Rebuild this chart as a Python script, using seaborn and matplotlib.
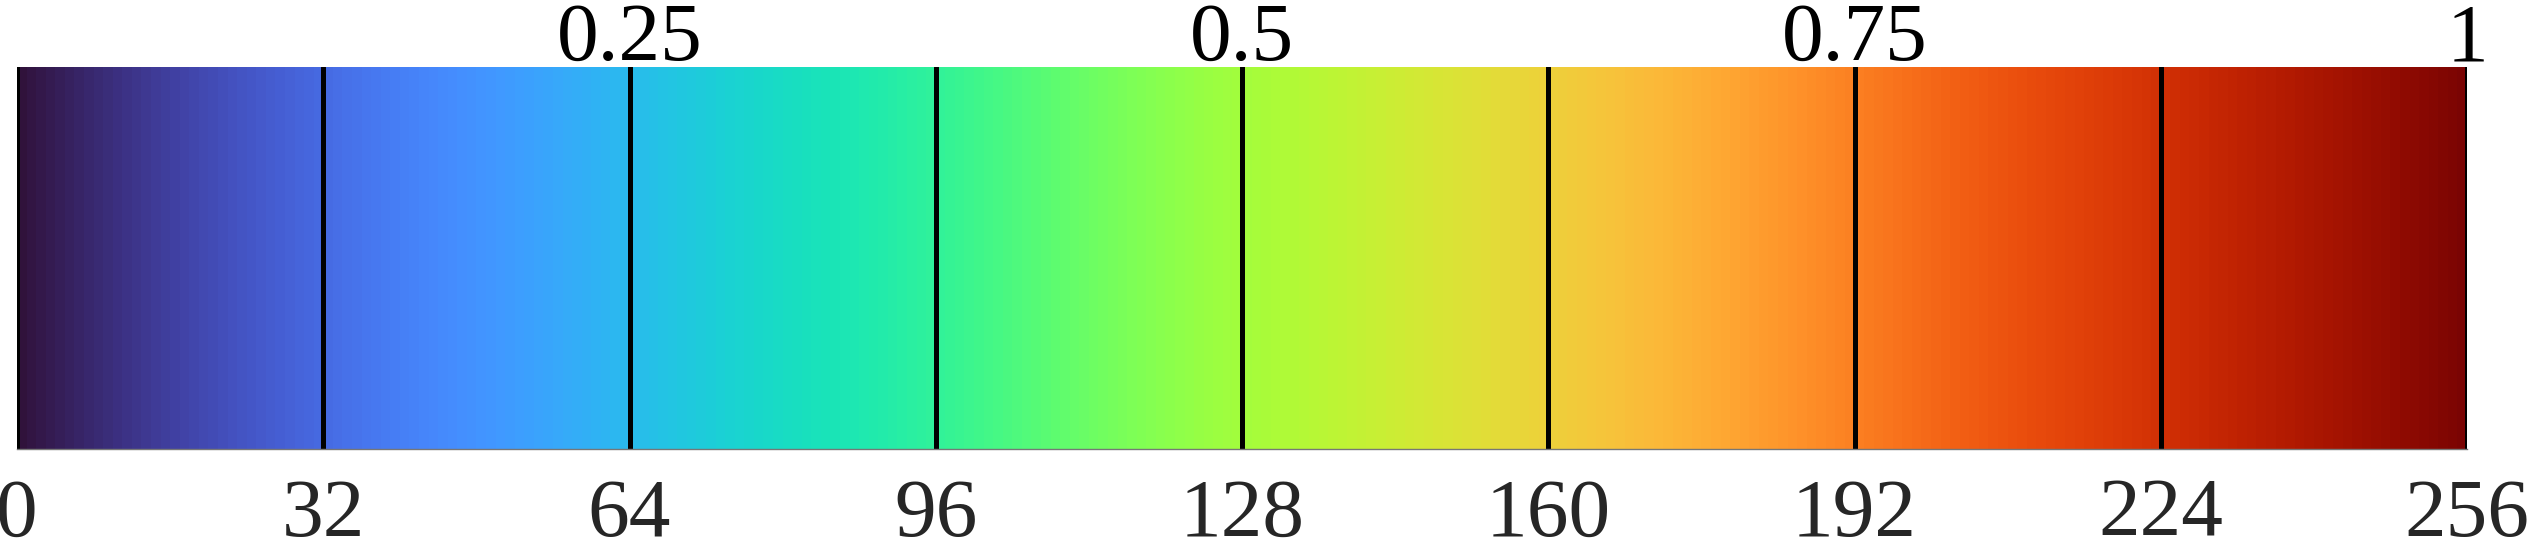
import numpy as np
import matplotlib
matplotlib.use("Agg")
import matplotlib.pyplot as plt
import seaborn as sns

# colour index along the bar and the tick layout
levels = np.arange(256)
bottom_ticks = [0, 32, 64, 96, 128, 160, 192, 224, 256]
bottom_labels = ["0", "32", "64", "96", "128", "160", "192", "224", "256"]
top_ticks = [64, 128, 192, 256]
top_labels = ["0.25", "0.5", "0.75", "1"]

sns.set_style("white")
plt.rcParams["font.family"] = ["Liberation Serif", "DejaVu Serif"]

W, H = 2527, 555
fig = plt.figure(figsize=(W / 100, H / 100), dpi=100)
ax = fig.add_axes([17 / W, 1 - 449 / H, 2450 / W, 382 / H])

sns.heatmap(levels[None, :], cmap="turbo", cbar=False, ax=ax,
            xticklabels=False, yticklabels=False)

# black separators every 32 levels
for t in bottom_ticks:
    ax.axvline(t, color="black", lw=3.6)

ax.set_xlim(0, 256)
ax.set_xticks(bottom_ticks)
ax.set_xticklabels(bottom_labels, fontsize=60, color="#262626")
ax.tick_params(axis="x", length=0, pad=21)
ax.set_yticks([])

for side in ["top", "left", "right"]:
    ax.spines[side].set_visible(False)
ax.spines["bottom"].set_visible(True)
ax.spines["bottom"].set_color("#777777")
ax.spines["bottom"].set_linewidth(1)

top = ax.secondary_xaxis("top")
top.set_xticks(top_ticks)
top.set_xticklabels(top_labels, fontsize=60, color="black")
top.tick_params(length=0, pad=-8)
top.spines["top"].set_visible(False)

fig.savefig("out.png", dpi=100)
